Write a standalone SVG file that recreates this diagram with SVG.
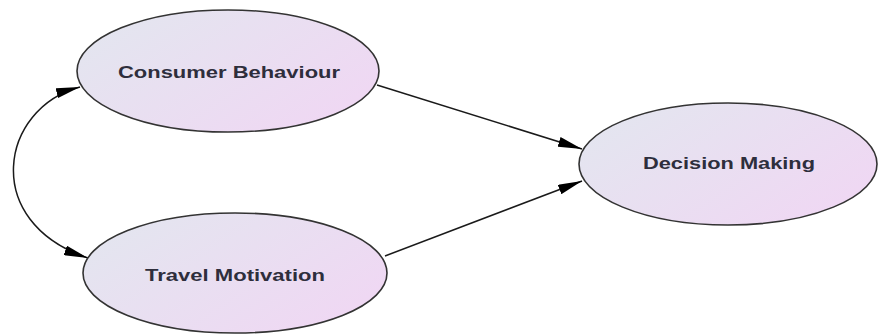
<svg xmlns="http://www.w3.org/2000/svg" width="878" height="334" viewBox="0 0 878 334">
<style>
.node ellipse{fill:url(#g);stroke:#333;stroke-width:1.6}
.node text{font-family:"Liberation Sans",Arial,sans-serif;font-weight:bold;font-size:17px;fill:#2e2e3c;text-anchor:middle}
.edge{fill:none;stroke:#1a1a1a;stroke-width:1.5}
</style>
<defs>
<linearGradient id="g" x1="0" y1="0" x2="1" y2="0.6">
<stop offset="0" stop-color="#e2e7ef"/>
<stop offset="1" stop-color="#efd8f3"/>
</linearGradient>
<marker id="ah" markerUnits="userSpaceOnUse" viewBox="0 0 24 10" refX="24" refY="5" markerWidth="24" markerHeight="10" orient="auto-start-reverse">
<path d="M0,0 L24,5 L0,10 z" fill="#000"/>
</marker>
</defs>
<g id="connectors">
<path class="edge" d="M377,85 L582,149" marker-end="url(#ah)"/>
<path class="edge" d="M385,256 L582,181" marker-end="url(#ah)"/>
<path class="edge" d="M80,87 C0,108 -20,222 88,258" marker-start="url(#ah)" marker-end="url(#ah)"/>
</g>
<g id="consumer-behaviour" class="node">
<ellipse cx="228" cy="71" rx="151" ry="61"/>
<text x="229" y="78" textLength="222" lengthAdjust="spacingAndGlyphs">Consumer Behaviour</text>
</g>
<g id="travel-motivation" class="node">
<ellipse cx="235" cy="273" rx="152" ry="60"/>
<text x="235" y="281" textLength="180" lengthAdjust="spacingAndGlyphs">Travel Motivation</text>
</g>
<g id="decision-making" class="node">
<ellipse cx="728" cy="164" rx="149" ry="61"/>
<text x="729" y="169" textLength="172" lengthAdjust="spacingAndGlyphs">Decision Making</text>
</g>
</svg>
